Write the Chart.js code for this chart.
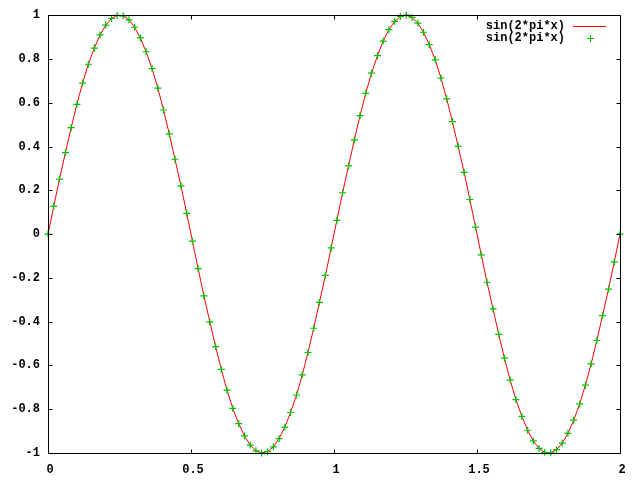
<!DOCTYPE html>
<html>
<head>
<meta charset="utf-8">
<script src="https://cdn.jsdelivr.net/npm/chart.js@4/dist/chart.umd.min.js"></script>
<style>
  html, body { margin: 0; padding: 0; background: #fff; }
  canvas { display: block; }
</style>
</head>
<body>
<canvas id="plot" width="640" height="480"></canvas>
<script>
// sampled x positions (100 samples over [0, 2])
const xs = [
  0, 0.020, 0.040, 0.061, 0.081, 0.101, 0.121, 0.141, 0.162, 0.182,
  0.202, 0.222, 0.242, 0.263, 0.283, 0.303, 0.323, 0.343, 0.364, 0.384,
  0.404, 0.424, 0.444, 0.465, 0.485, 0.505, 0.525, 0.545, 0.566, 0.586,
  0.606, 0.626, 0.646, 0.667, 0.687, 0.707, 0.727, 0.747, 0.768, 0.788,
  0.808, 0.828, 0.848, 0.869, 0.889, 0.909, 0.929, 0.949, 0.970, 0.990,
  1.010, 1.030, 1.051, 1.071, 1.091, 1.111, 1.131, 1.152, 1.172, 1.192,
  1.212, 1.232, 1.253, 1.273, 1.293, 1.313, 1.333, 1.354, 1.374, 1.394,
  1.414, 1.434, 1.455, 1.475, 1.495, 1.515, 1.535, 1.556, 1.576, 1.596,
  1.616, 1.636, 1.657, 1.677, 1.697, 1.717, 1.737, 1.758, 1.778, 1.798,
  1.818, 1.838, 1.859, 1.879, 1.899, 1.919, 1.939, 1.960, 1.980, 2
];

// sin(2*pi*x) read at each sample
const ys = [
  0, 0.127, 0.251, 0.372, 0.486, 0.593, 0.690, 0.776, 0.850, 0.910,
  0.955, 0.985, 0.999, 0.997, 0.979, 0.945, 0.896, 0.833, 0.756, 0.667,
  0.567, 0.458, 0.342, 0.220, 0.095, -0.032, -0.158, -0.282, -0.401, -0.514,
  -0.618, -0.713, -0.796, -0.866, -0.922, -0.964, -0.990, -1.000, -0.994, -0.972,
  -0.934, -0.882, -0.815, -0.735, -0.643, -0.541, -0.430, -0.312, -0.189, -0.063,
  0.063, 0.189, 0.312, 0.430, 0.541, 0.643, 0.735, 0.815, 0.882, 0.934,
  0.972, 0.994, 1.000, 0.990, 0.964, 0.922, 0.866, 0.796, 0.713, 0.618,
  0.514, 0.401, 0.282, 0.158, 0.032, -0.095, -0.220, -0.342, -0.458, -0.567,
  -0.667, -0.756, -0.833, -0.896, -0.945, -0.979, -0.997, -0.999, -0.985, -0.955,
  -0.910, -0.850, -0.776, -0.690, -0.593, -0.486, -0.372, -0.251, -0.127, 0
];

const xTicks = [0, 0.5, 1, 1.5, 2];
const yTicks = [-1, -0.8, -0.6, -0.4, -0.2, 0, 0.2, 0.4, 0.6, 0.8, 1];
const seriesLabels = ["sin(2*pi*x)", "sin(2*pi*x)"];

const FONT = { family: "'Liberation Mono', 'DejaVu Sans Mono', monospace", size: 12, weight: "bold" };
const RED = "#ff0000";
const GREEN = "#00c000";

const points = xs.map((x, i) => ({ x: x, y: ys[i] }));

// box around the plot with inward tics on all four sides
const framePlugin = {
  id: "frame",
  afterDraw(chart) {
    const ctx = chart.ctx;
    const a = chart.chartArea;
    const xs_ = chart.scales.x, ys_ = chart.scales.y;
    const L = Math.round(a.left) + 0.5, R = Math.round(a.right) + 0.5;
    const T = Math.round(a.top) + 0.5, B = Math.round(a.bottom) + 0.5;
    const tic = 4;
    ctx.save();
    ctx.strokeStyle = "#000";
    ctx.lineWidth = 1;
    ctx.beginPath();
    ctx.rect(L, T, R - L, B - T);
    xTicks.forEach(v => {
      const px = Math.round(xs_.getPixelForValue(v)) + 0.5;
      ctx.moveTo(px, B); ctx.lineTo(px, B - tic);
      ctx.moveTo(px, T); ctx.lineTo(px, T + tic);
    });
    yTicks.forEach(v => {
      const py = Math.round(ys_.getPixelForValue(v)) + 0.5;
      ctx.moveTo(L, py); ctx.lineTo(L + tic, py);
      ctx.moveTo(R, py); ctx.lineTo(R - tic, py);
    });
    ctx.stroke();
    ctx.restore();
  }
};

// gnuplot-style key in the top right corner
const keyPlugin = {
  id: "key",
  afterDraw(chart) {
    const ctx = chart.ctx;
    const a = chart.chartArea;
    const textRight = a.right - 55;
    const sampleL = a.right - 47, sampleR = a.right - 14;
    ctx.save();
    ctx.font = "bold 12px 'Liberation Mono', 'DejaVu Sans Mono', monospace";
    ctx.fillStyle = "#000";
    ctx.textAlign = "right";
    ctx.textBaseline = "middle";
    seriesLabels.forEach((label, i) => {
      const y = a.top + 11 + i * 12;
      ctx.fillText(label, textRight, y);
      ctx.lineWidth = 1;
      if (i === 0) {
        ctx.strokeStyle = RED;
        ctx.beginPath();
        ctx.moveTo(sampleL, Math.round(y) + 0.5);
        ctx.lineTo(sampleR, Math.round(y) + 0.5);
        ctx.stroke();
      } else {
        const cx = Math.round((sampleL + sampleR) / 2) + 0.5, cy = Math.round(y) + 0.5;
        ctx.strokeStyle = GREEN;
        ctx.beginPath();
        ctx.moveTo(cx - 3.5, cy); ctx.lineTo(cx + 3.5, cy);
        ctx.moveTo(cx, cy - 3.5); ctx.lineTo(cx, cy + 3.5);
        ctx.stroke();
      }
    });
    ctx.restore();
  }
};

new Chart(document.getElementById("plot"), {
  type: "scatter",
  data: {
    datasets: [
      {
        label: seriesLabels[0],
        data: points,
        showLine: true,
        borderColor: RED,
        borderWidth: 1,
        pointRadius: 0,
        fill: false,
        tension: 0,
        order: 2,
      },
      {
        label: seriesLabels[1],
        data: points,
        showLine: false,
        pointStyle: "cross",
        pointRadius: 3.5,
        pointBorderColor: GREEN,
        pointBackgroundColor: GREEN,
        pointBorderWidth: 1.2,
        order: 1,
      },
    ],
  },
  options: {
    responsive: false,
    animation: false,
    clip: false,
    layout: { padding: { top: 13, right: 20, left: 0, bottom: 0 } },
    plugins: {
      legend: { display: false },
      tooltip: { enabled: false },
    },
    scales: {
      x: {
        type: "linear",
        min: 0,
        max: 2,
        afterFit(scale) { scale.height = 27; },
        afterBuildTicks(scale) { scale.ticks = xTicks.map(v => ({ value: v })); },
        grid: { display: false, drawTicks: false },
        border: { display: false },
        ticks: {
          color: "#000",
          font: FONT,
          padding: 10,
          labelOffset: 2,
          maxRotation: 0,
          callback: v => String(parseFloat(v.toFixed(1))),
        },
      },
      y: {
        type: "linear",
        min: -1,
        max: 1,
        afterFit(scale) { scale.width = 48; },
        afterBuildTicks(scale) { scale.ticks = yTicks.map(v => ({ value: v })); },
        grid: { display: false, drawTicks: false },
        border: { display: false },
        ticks: {
          color: "#000",
          font: FONT,
          padding: 8,
          callback: v => String(parseFloat(v.toFixed(1))),
        },
      },
    },
  },
  plugins: [framePlugin, keyPlugin],
});
</script>
</body>
</html>
